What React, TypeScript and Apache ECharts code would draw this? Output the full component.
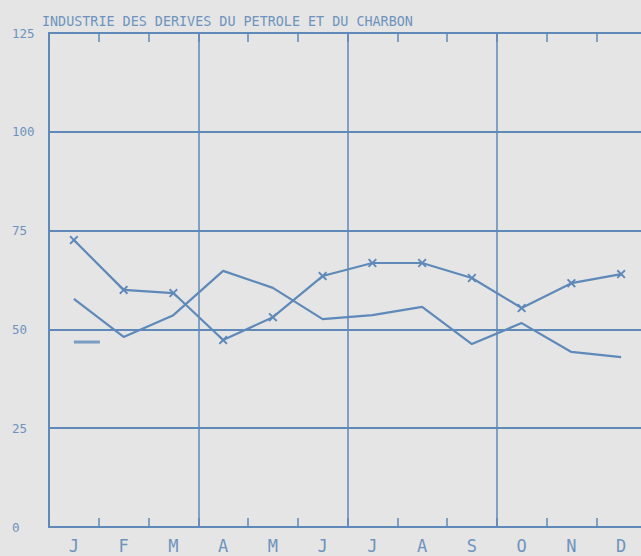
import React, { useEffect, useRef } from "react";
import * as echarts from "echarts";

const title = "INDUSTRIE DES DERIVES DU PETROLE ET DU CHARBON";
const months = ["J", "F", "M", "A", "M", "J", "J", "A", "S", "O", "N", "D"];
const seriesCross = [72.6, 60.0, 59.2, 47.3, 53.1, 63.5, 66.8, 66.8, 63.0, 55.4, 61.7, 64.0];
const seriesPlain = [57.7, 48.1, 53.6, 64.8, 60.5, 52.6, 53.6, 55.7, 46.3, 51.6, 44.3, 43.0];
const dashMarkValue = 46.8;
const yTicks = [0, 25, 50, 75, 100, 125];

const INK = "#5f89b9";
const TEXT = "#6f93bd";
const BG = "#e4e5e4";
const CROSS = "path://M1.5,0L5,3.5L8.5,0L10,1.5L6.5,5L10,8.5L8.5,10L5,6.5L1.5,10L0,8.5L3.5,5L0,1.5Z";

export default function App() {
  const ref = useRef<HTMLDivElement>(null);
  useEffect(() => {
    if (!ref.current) return;
    const chart = echarts.init(ref.current, null, { renderer: "svg" });
    const tick = { show: true, inside: true, length: 9, interval: 0, lineStyle: { color: INK, width: 1.5 } };
    chart.setOption({
      animation: false,
      backgroundColor: BG,
      title: {
        text: title,
        left: 37,
        top: 10,
        textStyle: { fontFamily: "DejaVu Sans Mono", fontSize: 13.4, fontWeight: "normal", color: TEXT },
      },
      grid: { left: 49, top: 33, width: 597, height: 494 },
      xAxis: [
        {
          type: "category",
          data: months,
          position: "bottom",
          boundaryGap: true,
          axisLine: { lineStyle: { color: INK, width: 2 } },
          axisTick: tick,
          axisLabel: { fontFamily: "DejaVu Sans Mono", fontSize: 17, color: TEXT, margin: 10, interval: 0 },
          splitLine: {
            show: true,
            interval: (i: number) => i % 3 === 0,
            lineStyle: { color: INK, width: 1.5 },
          },
        },
        {
          type: "category",
          data: months,
          position: "top",
          boundaryGap: true,
          axisLine: { lineStyle: { color: INK, width: 2 } },
          axisTick: tick,
          axisLabel: { show: false },
          splitLine: { show: false },
        },
      ],
      yAxis: {
        type: "value",
        min: 0,
        max: 125,
        interval: 25,
        axisLine: { show: true, lineStyle: { color: INK, width: 2 } },
        axisTick: { show: false },
        axisLabel: {
          fontFamily: "DejaVu Sans Mono",
          fontSize: 12.5,
          color: TEXT,
          align: "left",
          margin: 37,
          formatter: (v: number) => (yTicks.includes(v) ? String(v) : ""),
        },
        splitLine: { show: true, lineStyle: { color: INK, width: 2 } },
      },
      series: [
        {
          type: "line",
          data: seriesCross,
          symbol: CROSS,
          symbolSize: 9,
          showSymbol: true,
          lineStyle: { color: INK, width: 2.2 },
          itemStyle: { color: INK },
        },
        {
          type: "line",
          data: seriesPlain,
          symbol: "none",
          lineStyle: { color: INK, width: 2.2 },
          itemStyle: { color: INK },
        },
        {
          type: "scatter",
          data: [[0, dashMarkValue]],
          symbol: "rect",
          symbolSize: [26, 3],
          symbolOffset: [13, 0],
          itemStyle: { color: INK },
        },
      ],
    });
    return () => chart.dispose();
  }, []);
  return (
    <div
      style={{ position: "fixed", left: 0, top: 0, width: 641, height: 556, overflow: "hidden", background: BG }}
    >
      <div ref={ref} style={{ width: 670, height: 556 }} />
    </div>
  );
}
